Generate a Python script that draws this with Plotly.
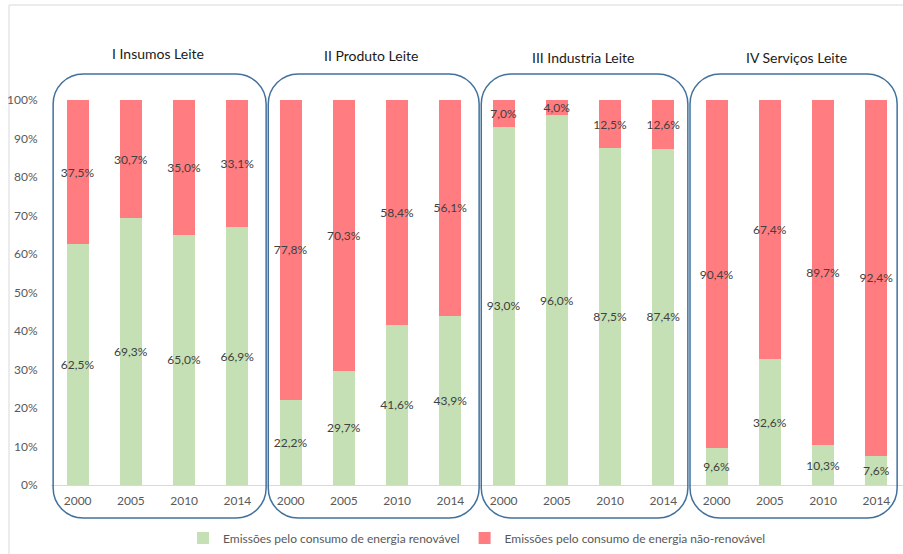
import plotly.graph_objects as go

groups = ["I Insumos Leite", "II Produto Leite", "III Industria Leite", "IV Serviços Leite"]
years = ["2000", "2005", "2010", "2014"]
renovavel = [62.5, 69.3, 65.0, 66.9,
             22.2, 29.7, 41.6, 43.9,
             93.0, 96.0, 87.5, 87.4,
             9.6, 32.6, 10.3, 7.6]
nao_renovavel = [37.5, 30.7, 35.0, 33.1,
                 77.8, 70.3, 58.4, 56.1,
                 7.0, 4.0, 12.5, 12.6,
                 90.4, 67.4, 89.7, 92.4]
yticks = [0, 10, 20, 30, 40, 50, 60, 70, 80, 90, 100]
series_names = ["Emissões pelo consumo de energia renovável",
                "Emissões pelo consumo de energia não-renovável"]

# layout-only: box edges (in category units) and title heights (px above plot top)
box_edges = [(-0.46, 3.54), (3.58, 7.54), (7.58, 11.46), (11.5, 15.39)]
title_dy = [47, 45, 42, 42]

W, H = 903, 554
ML, MR, MT, MB = 51, 0, 100, 69
PW = W - ML - MR
PH = H - MT - MB

n = len(groups) * len(years)
xs = list(range(n))
ticktext = years * len(groups)


def lab(v):
    return f"{v:.1f}".replace(".", ",") + "%"


GREEN = "#C5E0B4"
RED = "#FF7C80"
TXT = "#404040"
FONT = "Lato, 'Open Sans', sans-serif"

fig = go.Figure()
fig.add_bar(x=xs, y=[v / 100 for v in renovavel], name=series_names[0],
            marker=dict(color=GREEN, line=dict(width=0)),
            text=[lab(v) for v in renovavel], textposition="inside",
            insidetextanchor="middle", textangle=0, constraintext="none",
            insidetextfont=dict(color=TXT, size=12, family=FONT),
            hoverinfo="skip")
fig.add_bar(x=xs, y=[v / 100 for v in nao_renovavel], name=series_names[1],
            marker=dict(color=RED, line=dict(width=0)),
            text=[lab(v) for v in nao_renovavel], textposition="inside",
            insidetextanchor="middle", textangle=0, constraintext="none",
            insidetextfont=dict(color=TXT, size=12, family=FONT),
            hoverinfo="skip")


def px_x(cat):
    return (cat + 0.5) / n


rx = 30 / PW
ry = 30 / PH
k = 0.5523
y0, y1 = -33 / PH, 411 / PH
shapes = []
annotations = []
gsize = len(years)
for gi, g in enumerate(groups):
    c = gi * gsize + (gsize - 1) / 2
    x0 = px_x(box_edges[gi][0])
    x1 = px_x(box_edges[gi][1])
    path = (f"M {x0+rx},{y1} L {x1-rx},{y1} "
            f"C {x1-rx+k*rx},{y1} {x1},{y1-ry+k*ry} {x1},{y1-ry} "
            f"L {x1},{y0+ry} "
            f"C {x1},{y0+ry-k*ry} {x1-rx+k*rx},{y0} {x1-rx},{y0} "
            f"L {x0+rx},{y0} "
            f"C {x0+rx-k*rx},{y0} {x0},{y0+ry-k*ry} {x0},{y0+ry} "
            f"L {x0},{y1-ry} "
            f"C {x0},{y1-ry+k*ry} {x0+rx-k*rx},{y1} {x0+rx},{y1} Z")
    shapes.append(dict(type="path", path=path, xref="paper", yref="paper",
                       line=dict(color="#41719C", width=1.5), layer="above"))
    annotations.append(dict(text=g, x=px_x(c), y=(PH + title_dy[gi]) / PH,
                            xref="paper", yref="paper",
                            showarrow=False, xanchor="center", yanchor="middle",
                            font=dict(size=14, color="#1a1a1a", family=FONT)))

# outer chart frame
shapes.append(dict(type="rect", xref="paper", yref="paper",
                   x0=(9 - ML) / PW, x1=(W + 10 - ML) / PW,
                   y0=-(MB + 10) / PH, y1=(PH + MT - 5) / PH,
                   line=dict(color="#D9D9D9", width=1), layer="below"))

fig.update_layout(
    width=W, height=H,
    margin=dict(l=ML, r=MR, t=MT, b=MB),
    barmode="stack", bargap=0.59,
    plot_bgcolor="white", paper_bgcolor="white",
    font=dict(family=FONT, color="#595959", size=12),
    showlegend=True,
    legend=dict(orientation="h", x=0.5, xanchor="center", y=-53 / PH, yanchor="middle",
                font=dict(size=12, color="#595959"), traceorder="normal",
                itemwidth=30),
    shapes=shapes, annotations=annotations,
    xaxis=dict(tickmode="array", tickvals=xs, ticktext=ticktext, range=[-0.5, n - 0.5],
               showgrid=False, showline=False, zeroline=False,
               ticks="outside", ticklen=5, tickcolor="rgba(0,0,0,0)",
               tickfont=dict(size=12, color="#595959")),
    yaxis=dict(range=[0, 1], tickmode="array", tickvals=[t / 100 for t in yticks],
               ticktext=[f"{t}%" for t in yticks], showgrid=False, showline=False,
               zeroline=True, zerolinecolor="#D9D9D9", zerolinewidth=1,
               ticks="outside", ticklen=10, tickcolor="rgba(0,0,0,0)",
               tickfont=dict(size=12, color="#595959")),
)

fig.write_html("out.html")
